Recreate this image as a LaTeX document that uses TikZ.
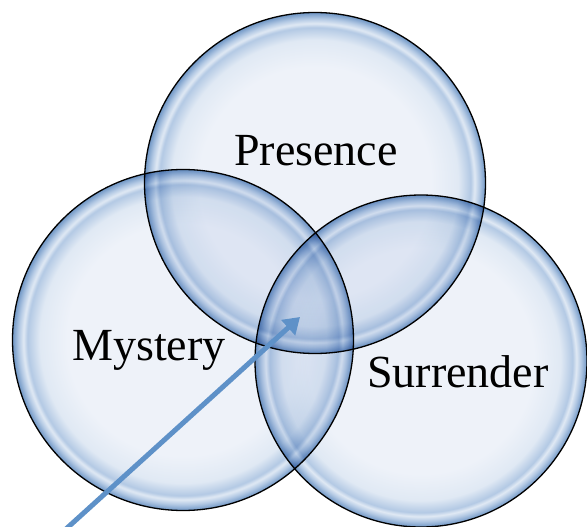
\documentclass[tikz,border=0pt]{standalone}
\usepackage{fontspec}
\setmainfont{Liberation Serif}
\usepackage{tikz}
\usetikzlibrary{positioning, arrows.meta, calc}

\definecolor{bubcenter}{HTML}{EEF2F9}
\definecolor{bubmid}{HTML}{E0E9F4}
\definecolor{bubring}{HTML}{B3C9E4}
\definecolor{bubedge}{HTML}{6F96C5}
\definecolor{arrowblue}{HTML}{5E91C8}

\pgfdeclareradialshading{bubble}{\pgfpoint{0bp}{0bp}}{%
  color(0bp)=(bubcenter); color(17bp)=(bubcenter); color(21bp)=(bubmid);
  color(22.8bp)=(bubring); color(23.4bp)=(bubmid); color(24.1bp)=(bubring);
  color(25bp)=(bubedge); color(50bp)=(bubedge)}

\tikzset{
  bubble/.style={circle, draw=black, line width=1.3pt, shading=bubble,
    minimum size=#1, inner sep=0pt},
  label/.style={font=\fontsize{46}{52}\selectfont, anchor=base},
  pointer/.style={draw=arrowblue, line width=5pt,
    -{Triangle[length=16pt, width=20pt]}}
}

\begin{document}
\begin{tikzpicture}[x=1pt, y=-1pt]
  \useasboundingbox (0,0) rectangle (587,527);

  % Circles
  \begin{scope}[blend mode=multiply]
    \node[bubble=341pt] (presence) at (315,183) {};
    \node[bubble=341pt] (mystery) at (183,340) {};
    \node[bubble=332pt] (surrender) at (421,361) {};
  \end{scope}

  % Labels
  \node[label] (tpresence) at (316,165) {Presence};
  \node[label] (tmystery) at (149,360) {Mystery};
  \node[label] (tsurrender) at (458,387) {Surrender};

  % Arrow into the middle
  \coordinate (tail) at (66,529);
  \coordinate (tip) at (300,317);
  \draw[pointer] (tail) -- (tip);
\end{tikzpicture}
\end{document}
